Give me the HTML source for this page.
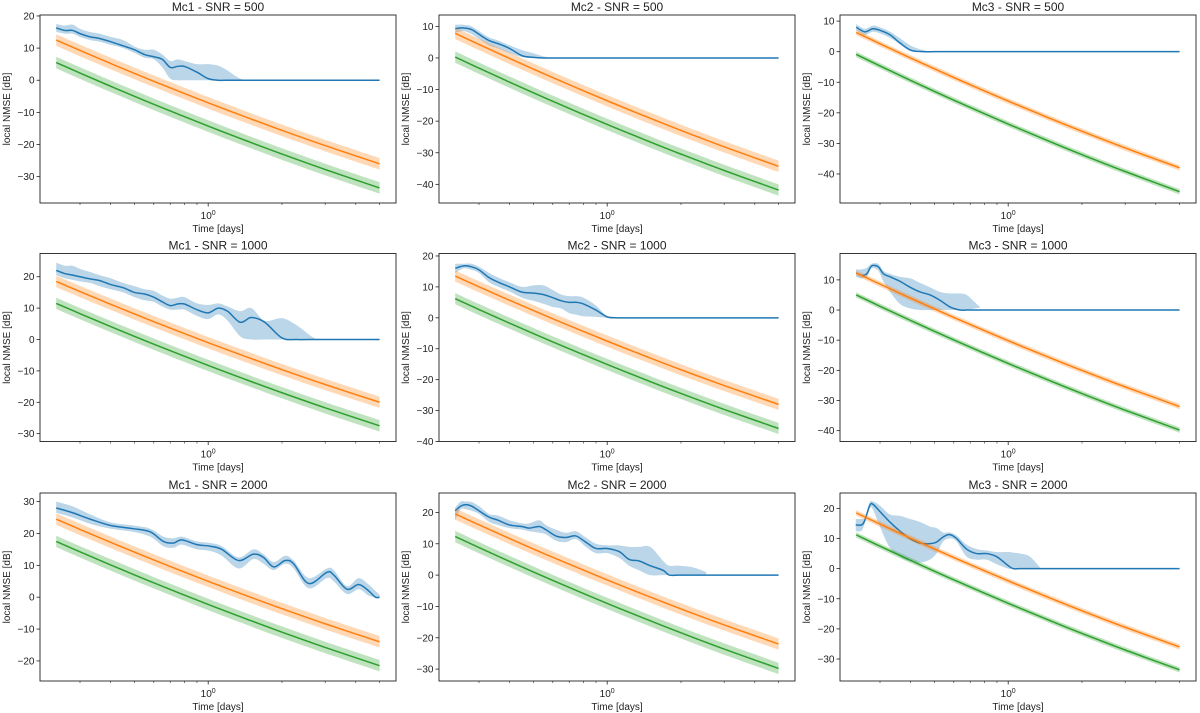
<!DOCTYPE html>
<html><head><meta charset="utf-8"><style>
body{margin:0;background:#fff}
svg{display:block;font-family:"Liberation Sans","DejaVu Sans",sans-serif}
</style></head><body>
<svg id="fig" width="1200" height="713" viewBox="0 0 1200 713"></svg>
<script>
const titles=["Mc1 - SNR = 500","Mc2 - SNR = 500","Mc3 - SNR = 500","Mc1 - SNR = 1000","Mc2 - SNR = 1000","Mc3 - SNR = 1000","Mc1 - SNR = 2000","Mc2 - SNR = 2000","Mc3 - SNR = 2000"];
const yLims=[[-38.2,20.3],[-45.9,13.6],[-49.5,12],[-32.5,27.4],[-40,20.8],[-43.6,18.75],[-26.3,32.7],[-33.8,26.2],[-37.3,25.1]];
const yTicks=[[-30,-20,-10,0,10,20],[-40,-30,-20,-10,0,10],[-40,-30,-20,-10,0,10],[-30,-20,-10,0,10,20],[-40,-30,-20,-10,0,10,20],[-40,-30,-20,-10,0,10],[-20,-10,0,10,20,30],[-30,-20,-10,0,10,20],[-30,-20,-10,0,10,20]];
const xMinorTicks=[0.3,0.4,0.5,0.6,0.7,0.8,0.9,2,3,4,5];
const lineDays=[0.24,0.3,0.4,0.6,1,1.5,2,3,5];
const orange=[
[12.5,9.28,5.22,-0.32,-7.02,-12.1,-15.6,-20.34,-26],
[7.8,4.28,-0.16,-6.22,-13.54,-19.1,-22.93,-28.11,-34.3],
[6.3,2.59,-2.07,-8.45,-16.16,-22.01,-26.04,-31.49,-38],
[18.5,15.28,11.22,5.68,-1.02,-6.1,-9.6,-14.34,-20],
[13.5,10.03,5.66,-0.32,-7.54,-13.02,-16.8,-21.9,-28],
[12.3,8.59,3.93,-2.45,-10.16,-16.01,-20.04,-25.49,-32],
[24.5,21.28,17.22,11.68,4.98,-0.1,-3.6,-8.34,-14],
[19.5,16.03,11.66,5.68,-1.54,-7.02,-10.8,-15.9,-22],
[18.5,14.78,10.09,3.68,-4.06,-9.94,-13.99,-19.46,-26]];
const green=[
[5.5,2.24,-1.87,-7.49,-14.27,-19.42,-22.97,-27.77,-33.5],
[0.3,-3.22,-7.66,-13.72,-21.04,-26.6,-30.43,-35.61,-41.8],
[-0.9,-4.66,-9.39,-15.85,-23.66,-29.59,-33.68,-39.2,-45.8],
[11.5,8.24,4.13,-1.49,-8.27,-13.42,-16.97,-21.77,-27.5],
[6.2,2.68,-1.74,-7.79,-15.09,-20.64,-24.46,-29.63,-35.8],
[5,1.25,-3.47,-9.92,-17.71,-23.63,-27.7,-33.21,-39.8],
[17.5,14.24,10.13,4.51,-2.27,-7.42,-10.97,-15.77,-21.5],
[12.3,8.78,4.34,-1.72,-9.04,-14.6,-18.43,-23.61,-29.8],
[11.2,7.45,2.73,-3.72,-11.51,-17.43,-21.5,-27.01,-33.6]];
const bandHalf=[1.8,1.8,0.9,1.8,1.8,0.9,1.8,1.8,0.9];
const gridDays=[0.24,0.26,0.28,0.3,0.33,0.36,0.4,0.45,0.5,0.55,0.6,0.65,0.7,0.75,0.8,0.9,1,1.1,1.2,1.35,1.5,1.7,2,2.3,2.7,3,3.5,4,4.5,5];
const p6Days=[0.2397,0.2527,0.2649,0.2733,0.2803,0.2956,0.3099,0.3299,0.3623,0.3993,0.4372,0.4803,0.5278,0.5798,0.6369,0.678,0.722,0.7686,0.8184,5];
const p7Days=[0.24,0.28,0.33,0.40,0.496,0.58,0.657,0.722,0.781,0.90,1.02,1.137,1.33,1.53,1.68,1.85,2.06,2.23,2.57,3.05,3.25,3.68,4.11,4.51,4.81,5];
const p8Days=[0.2397,0.2527,0.2649,0.2803,0.3003,0.3299,0.3589,0.3993,0.4498,0.4803,0.5278,0.5619,0.6172,0.678,0.7448,0.8184,0.899,1,1.119,1.2297,1.351,1.4976,1.693,1.791,1.967,2.23,2.527,2.691,5];
const p9Days=[0.2389,0.252,0.26,0.2725,0.2812,0.2994,0.3289,0.3613,0.3968,0.4359,0.4789,0.5099,0.5429,0.578,0.6154,0.6761,0.7425,0.8159,0.8961,1,1.048,1.116,1.226,1.347,1.39,5];
const blueDays=[gridDays,gridDays,gridDays,gridDays,gridDays,p6Days,p7Days,p8Days,p9Days];
const blueMean=[
[16.3,15.5,15.5,14.5,13.5,13,12,10.7,9.5,8,7.3,6.5,4,4.3,4.3,2.5,0.5,0,0,0,0,0,0,0,0,0,0,0,0,0],
[9.3,9.5,9,7.5,5.5,4.5,3,0.7,0.2,0,0,0,0,0,0,0,0,0,0,0,0,0,0,0,0,0,0,0,0,0],
[8,6.5,7.5,7,5.5,3,0.5,0,0,0,0,0,0,0,0,0,0,0,0,0,0,0,0,0,0,0,0,0,0,0],
[22,21,20.5,20,19.3,18.8,17.5,16.5,15,14.5,13.5,12,10.8,11.3,11.3,9.5,8.5,10,9,5.5,7,5.5,0.5,0,0,0,0,0,0,0],
[16,16.8,16.5,15.5,13,11.5,10,8.3,8,7.5,6.5,5.5,5,5,4.5,2.5,0.3,0,0,0,0,0,0,0,0,0,0,0,0,0],
[12.3,11.5,12,14,14.8,14.3,12,11,9.5,7.5,6,5,3.2,1,0,0,0,0,0,0],
[28,26.5,24.5,22.5,21.5,20.5,17.5,17,18,16.5,16,15,11.5,13.5,12.5,9.5,11.5,10.5,4.3,7.8,7,2.5,4,2,0,0],
[20.5,22,22.5,22,20.5,18.5,17.5,16,15.5,15,15.5,14.5,12.5,12,12.5,10.5,8.5,8.5,7.5,5,4.5,3,1.5,0,0,0,0,0,0],
[14.5,14.5,16,21,21.3,19,15.5,12.5,10,8.5,8.3,8.8,10.5,11.3,10,6.5,5,5,4,1,0,0,0,0,0,0]];
const blueUpper=[
[17.5,17,17.3,16,15,14.5,13.5,12.5,10.5,9.5,9.5,8,6,6.5,6,5,5,4.5,3,0.5,0,0,0,0,0,0,0,0,0,0],
[10.5,10.5,10,8.5,6.5,5.5,4,2.5,1.5,0.5,0,0,0,0,0,0,0,0,0,0,0,0,0,0,0,0,0,0,0,0],
[9,7.5,8.5,8,6.5,4.5,2,0.5,0,0,0,0,0,0,0,0,0,0,0,0,0,0,0,0,0,0,0,0,0,0],
[24.5,23.5,23.5,22.5,21.5,20.5,19.5,18,17,16,15.5,14,13,13.3,13.5,11.5,11,11.5,10.5,9,10,6,6.8,4.5,0.5,0,0,0,0,0],
[17.5,17.5,17.5,16.5,14.5,13,11.5,10,10.5,10.5,9,7.5,7,7,6.5,4,0.5,0,0,0,0,0,0,0,0,0,0,0,0,0],
[13.5,13.5,14,15,15.5,15.3,13,12,11,10.5,9,7.5,6,5.5,5.5,5,3,1,0,0],
[30,28.5,26,23.5,22.5,21.5,19,18.5,19,17.5,17,16,12.5,15,13.5,11,13,11.5,6,9,8.5,3.5,6,4,2,0.8],
[21.5,23.5,23.5,23.3,22,19.5,19,17.5,16.5,16.5,17.5,16,14.5,13.5,14,12,10,9.5,9.5,9,9,9,4.5,3,3,2.5,1,0,0],
[16.5,16.5,17,22,22.3,21,18,17.5,16.5,15.5,14,13.5,12,12,11,8,6.5,6,5.5,5.5,5.3,5,4,0.5,0,0]];
const blueLower=[
[15,14.5,14.5,13.5,12.5,12,11,10,8.5,7,6.5,4,0.5,0,0,0,0,0,0,0,0,0,0,0,0,0,0,0,0,0],
[8,8.5,7.5,6,4,3,1.5,0.3,0,0,0,0,0,0,0,0,0,0,0,0,0,0,0,0,0,0,0,0,0,0],
[7,5.5,6.5,6,4.5,2.5,0.2,0,0,0,0,0,0,0,0,0,0,0,0,0,0,0,0,0,0,0,0,0,0,0],
[20.5,19.5,19,18.5,18,17,16,15,13.5,12.5,12,10.5,9.5,9.5,9.5,7.5,6.5,8,6,1,0,0,0,0,0,0,0,0,0,0],
[14.5,16,15.5,14.5,11.5,10,8.5,6.5,5.5,4.5,3.5,3,1.5,1,0.5,0.3,0,0,0,0,0,0,0,0,0,0,0,0,0,0],
[11,10.5,11,13,14,13,9.5,6,2,0.5,0,0,0,0,0,0,0,0,0,0],
[26.5,25,23,21.5,20.5,19,16,15.5,16.5,15,14.5,13,9,12,10.5,8.5,10.5,9,2.8,6,5,1,2.5,0.5,0,0],
[17.5,21,21,20.5,19.5,17,16,15,14.5,14,13.5,13,11,10.5,11.5,9,7,7,5.5,3,1.5,0,0,0,0,0,0,0,0],
[12.5,12.5,15,20,19.5,14,7,4,2.5,2,3,5,9,10,9,4,3,3,1.5,0,0,0,0,0,0,0]];

const NS="http://www.w3.org/2000/svg";
const svg=document.getElementById('fig');
const colLeft=[40,439,840],rowTop=[15,253.5,493],W=356,H=188;
const LX0=-0.686,LX1=0.766;
function mk(tag,attrs,parent){const e=document.createElementNS(NS,tag);for(const k in attrs)e.setAttribute(k,attrs[k]);(parent||svg).appendChild(e);return e;}
function smooth(pts,move){let d=(move?'M':'L')+pts[0][0].toFixed(2)+','+pts[0][1].toFixed(2);
 for(let i=0;i<pts.length-1;i++){const p0=pts[Math.max(0,i-1)],p1=pts[i],p2=pts[i+1],p3=pts[Math.min(pts.length-1,i+2)];
  const c1=[p1[0]+(p2[0]-p0[0])/6,p1[1]+(p2[1]-p0[1])/6],c2=[p2[0]-(p3[0]-p1[0])/6,p2[1]-(p3[1]-p1[1])/6];
  d+='C'+c1[0].toFixed(2)+','+c1[1].toFixed(2)+' '+c2[0].toFixed(2)+','+c2[1].toFixed(2)+' '+p2[0].toFixed(2)+','+p2[1].toFixed(2);}
 return d;}
for(let p=0;p<9;p++){
 const L=colLeft[p%3],T=rowTop[Math.floor(p/3)];
 const [y0,y1]=yLims[p];
 const sx=d=>L+(Math.log10(d)-LX0)/(LX1-LX0)*W;
 const sy=v=>T+H-(v-y0)/(y1-y0)*H;
 const g=mk('g',{});
 
 
 const cid='clip'+p;
 const cp=mk('clipPath',{id:cid},g);mk('rect',{x:L,y:T,width:W,height:H},cp);
 const plot=mk('g',{'clip-path':'url(#'+cid+')'},g);
 function series(xs,mid,lo,hi,color,name){
  const up=xs.map((x,i)=>[sx(x),sy(hi[i])]),dn=xs.map((x,i)=>[sx(x),sy(lo[i])]).reverse();
  const band=mk('path',{d:smooth(up,true)+smooth(dn,false)+'Z',fill:color,'fill-opacity':0.3,stroke:'none'},plot);
  
  
  const ln=mk('path',{d:smooth(xs.map((x,i)=>[sx(x),sy(mid[i])]),true),fill:'none',stroke:color,'stroke-width':1.5},plot);
  
  
 }
 series(blueDays[p],blueMean[p],blueLower[p],blueUpper[p],'#1f77b4','blue');
 const h=bandHalf[p];
 series(lineDays,orange[p],orange[p].map(v=>v-h),orange[p].map(v=>v+h),'#ff7f0e','orange');
 series(lineDays,green[p],green[p].map(v=>v-h),green[p].map(v=>v+h),'#2ca02c','green');
 const fr=mk('rect',{x:L,y:T,width:W,height:H,fill:'none',stroke:'#222','stroke-width':0.9},g);
 
 
 yTicks[p].forEach(v=>{const y=sy(v);mk('line',{x1:L-3.5,x2:L,y1:y,y2:y,stroke:'#222','stroke-width':0.8},g);
  const t=mk('text',{x:L-5.5,y:y+3.5,'text-anchor':'end','font-size':10,fill:'#222'},g);t.textContent=(v<0?'\u2212'+(-v):v);
  
  });
 xMinorTicks.forEach(d=>{const x=sx(d);mk('line',{x1:x,x2:x,y1:T+H,y2:T+H+2,stroke:'#222','stroke-width':0.6},g);});
 const x1=sx(1);mk('line',{x1:x1,x2:x1,y1:T+H,y2:T+H+3.5,stroke:'#222','stroke-width':0.8},g);
 const xl=mk('text',{x:x1,y:T+H+16,'text-anchor':'middle','font-size':10,fill:'#222'},g);
 xl.innerHTML='10<tspan dy="-4" font-size="7">0</tspan>';
 
 
 const xt=mk('text',{x:L+W/2,y:T+H+29,'text-anchor':'middle','font-size':10,fill:'#222'},g);xt.textContent='Time [days]';
 
 
 const yt=mk('text',{x:0,y:0,'text-anchor':'middle','font-size':10,fill:'#222',transform:'translate('+(L-30)+','+(T+H/2)+') rotate(-90)'},g);yt.textContent='local NMSE [dB]';
 
 
 const tt=mk('text',{x:L+W/2,y:T-4,'text-anchor':'middle','font-size':12,fill:'#222'},g);tt.textContent=titles[p];
 
 
}
</script>
</body></html>
